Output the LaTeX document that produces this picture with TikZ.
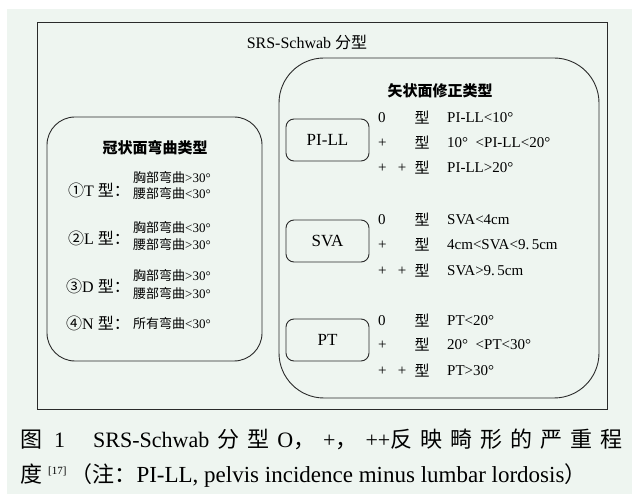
\documentclass[tikz,border=0pt]{standalone}
\usepackage{fontspec}
\setmainfont{Liberation Serif}
\newfontfamily\cjk{Noto Sans CJK SC}
\newcommand\zh[1]{{\cjk #1}}
\newcommand\cz[1]{{\fontsize{22}{24}\cjk #1}}
\definecolor{bg}{HTML}{EEF5F0}
\definecolor{ln}{HTML}{2A2A2A}
\begin{document}
\begin{tikzpicture}[x=1pt,y=-1pt,
  frame/.style={draw=ln,line width=0.9pt,inner sep=0pt},
  bigbox/.style={frame,rounded corners=#1},
  txt/.style={inner sep=0pt,text=black,font=\fontsize{15}{17}\selectfont},
  small/.style={inner sep=0pt,text=black,font=\fontsize{13}{15}\selectfont},
  lab/.style={inner sep=0pt,text=black,font=\fontsize{16}{18}\selectfont},
  captxt/.style={inner sep=0pt,text=black,font=\fontsize{22}{24}\selectfont},
  ttl/.style={inner sep=0pt,text=black,font=\fontsize{15}{17}\cjk\bfseries},
  smallbox/.style={frame,rounded corners=8pt,minimum width=83pt,minimum height=42pt,font=\fontsize{17}{19}\selectfont}
]
\useasboundingbox (0,0) rectangle (632,494);
\fill[white] (0,0) rectangle (632,494);
\fill[bg] (7,9) rectangle (632,494);

% outer frame
\node[frame,minimum width=570pt,minimum height=387pt] (outer) at (322,215.5) {};
\node[inner sep=0pt,font=\fontsize{16}{18}\selectfont] (title) at (307,42) {SRS-Schwab \zh{分型}};

% left box
\node[bigbox=28pt,minimum width=215pt,minimum height=244pt] (coronal) at (154.5,239) {};
\node[ttl] (ctitle) at (155,148) {冠状面弯曲类型};

\node[lab,anchor=east] (T) at (130,190) {\zh{①}T \zh{型：}};
\node[small,anchor=west] (T1) at (133,177) {\zh{胸部弯曲}>30°};
\node[small,anchor=west] (T2) at (133,193.5) {\zh{腰部弯曲}<30°};

\node[lab,anchor=east] (L) at (130,238) {\zh{②}L \zh{型：}};
\node[small,anchor=west] (L1) at (133,227) {\zh{胸部弯曲}<30°};
\node[small,anchor=west] (L2) at (133,244) {\zh{腰部弯曲}>30°};

\node[lab,anchor=east] (D) at (130,286) {\zh{③}D \zh{型：}};
\node[small,anchor=west] (D1) at (133,275) {\zh{胸部弯曲}>30°};
\node[small,anchor=west] (D2) at (133,293) {\zh{腰部弯曲}>30°};

\node[lab,anchor=east] (N) at (130,323) {\zh{④}N \zh{型：}};
\node[small,anchor=west] (N1) at (133,323) {\zh{所有弯曲}<30°};

% right box
\node[bigbox=45pt,minimum width=320pt,minimum height=340pt] (sagittal) at (439,228) {};
\node[ttl] (stitle) at (440,91) {矢状面修正类型};

\node[smallbox] (pill) at (327.5,140) {PI-LL};
\node[smallbox] (sva) at (327.5,241) {SVA};
\node[smallbox] (pt) at (327.5,340) {PT};

% PI-LL rows
\node[txt,anchor=west] (a0) at (378,118) {0};
\node[txt] (a0t) at (422,118) {\zh{型}};
\node[txt,anchor=west] (a0c) at (447,118) {PI-LL<10°};
\node[txt,anchor=west] (a1) at (378,143) {+};
\node[txt] (a1t) at (422,143) {\zh{型}};
\node[txt,anchor=west] (a1c) at (447,143) {10°\ \ <PI-LL<20°};
\node[txt,anchor=west] (a2) at (378,168) {+\ \ \ +};
\node[txt] (a2t) at (422,168) {\zh{型}};
\node[txt,anchor=west] (a2c) at (447,168) {PI-LL>20°};

% SVA rows
\node[txt,anchor=west] (b0) at (378,220) {0};
\node[txt] (b0t) at (422,220) {\zh{型}};
\node[txt,anchor=west] (b0c) at (447,220) {SVA<4cm};
\node[txt,anchor=west] (b1) at (378,245) {+};
\node[txt] (b1t) at (422,245) {\zh{型}};
\node[txt,anchor=west] (b1c) at (447,245) {4cm<SVA<9.\,5cm};
\node[txt,anchor=west] (b2) at (378,271) {+\ \ \ +};
\node[txt] (b2t) at (422,271) {\zh{型}};
\node[txt,anchor=west] (b2c) at (447,271) {SVA>9.\,5cm};

% PT rows
\node[txt,anchor=west] (c0) at (378,321) {0};
\node[txt] (c0t) at (422,321) {\zh{型}};
\node[txt,anchor=west] (c0c) at (447,321) {PT<20°};
\node[txt,anchor=west] (c1) at (378,345) {+};
\node[txt] (c1t) at (422,345) {\zh{型}};
\node[txt,anchor=west] (c1c) at (447,345) {20°\ \ <PT<30°};
\node[txt,anchor=west] (c2) at (378,371) {+\ \ \ +};
\node[txt] (c2t) at (422,371) {\zh{型}};
\node[txt,anchor=west] (c2c) at (447,371) {PT>30°};

% caption
\node[captxt,anchor=west] (cap1) at (20,439) {\makebox[602pt][s]{\cz{图}\hspace{12pt}1\hspace{28pt}SRS-Schwab\hfil\cz{分}\hfil\cz{型}\hfil O\cz{，}\hfil+\cz{，}\hfil++\cz{反}\hfil\cz{映}\hfil\cz{畸}\hfil\cz{形}\hfil\cz{的}\hfil\cz{严}\hfil\cz{重}\hfil\cz{程}}};
\node[captxt,anchor=west,font=\fontsize{23}{25}\selectfont] (cap2) at (20,476) {\cz{度}\hspace{6pt}\raisebox{8pt}{\fontsize{11}{12}\selectfont[17]}\hspace{4pt}\cz{（注：}PI-LL, pelvis incidence minus lumbar lordosis\cz{）}};
\end{tikzpicture}
\end{document}
